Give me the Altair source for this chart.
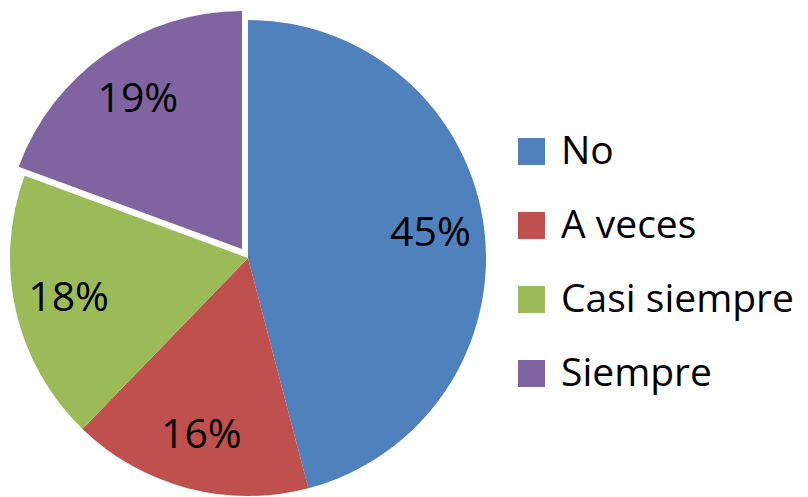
import altair as alt
import pandas as pd

categories = ["No", "A veces", "Casi siempre", "Siempre"]
values = [45, 16, 18, 19]
labels = ["45%", "16%", "18%", "19%"]
colors = ["#4F81BD", "#C0504D", "#9BBB59", "#8064A2"]
exploded = "Siempre"

df = pd.DataFrame({"cat": categories, "value": values, "label": labels,
                   "idx": list(range(len(categories)))})
total = sum(values)

FONT = "Open Sans"
R = 238

base = alt.Chart(df).transform_window(
    end="sum(value)", sort=[alt.SortField("idx")], frame=[None, 0]
).transform_calculate(
    start="datum.end - datum.value",
    mid="datum.end - datum.value / 2",
)

theta_scale = alt.Scale(domain=[0, total])
color = alt.Color("cat:N", scale=alt.Scale(domain=categories, range=colors),
                  sort=categories,
                  legend=alt.Legend(title=None, orient="none", legendX=504, legendY=124,
                                    symbolType="square", symbolSize=729,
                                    symbolStrokeWidth=0, labelFont=FONT,
                                    labelFontSize=39, labelColor="#000000",
                                    labelOffset=10, rowPadding=34, padding=0,
                                    labelLimit=400))

arcs_main = base.transform_filter(f"datum.cat != '{exploded}'").mark_arc(
    outerRadius=R).encode(
    theta=alt.Theta("start:Q", scale=theta_scale), theta2="end:Q", color=color)
arcs_exp = base.transform_filter(f"datum.cat == '{exploded}'").mark_arc(
    outerRadius=R, xOffset=-6, yOffset=-9).encode(
    theta=alt.Theta("start:Q", scale=theta_scale), theta2="end:Q", color=color)

text_main = base.transform_filter(f"datum.cat != '{exploded}'").mark_text(
    radius=184, font=FONT, fontSize=41, color="#000000").encode(
    theta=alt.Theta("mid:Q", scale=theta_scale), text="label:N")
text_exp = base.transform_filter(f"datum.cat == '{exploded}'").mark_text(
    radius=182, font=FONT, fontSize=41, color="#000000", xOffset=-6, yOffset=-9).encode(
    theta=alt.Theta("mid:Q", scale=theta_scale), text="label:N")

chart = alt.layer(arcs_main, arcs_exp, text_main, text_exp).properties(
    width=480, height=500, padding=0
).configure_view(stroke=None)

chart.save("out.html", embed_options={"renderer": "svg", "actions": False})
